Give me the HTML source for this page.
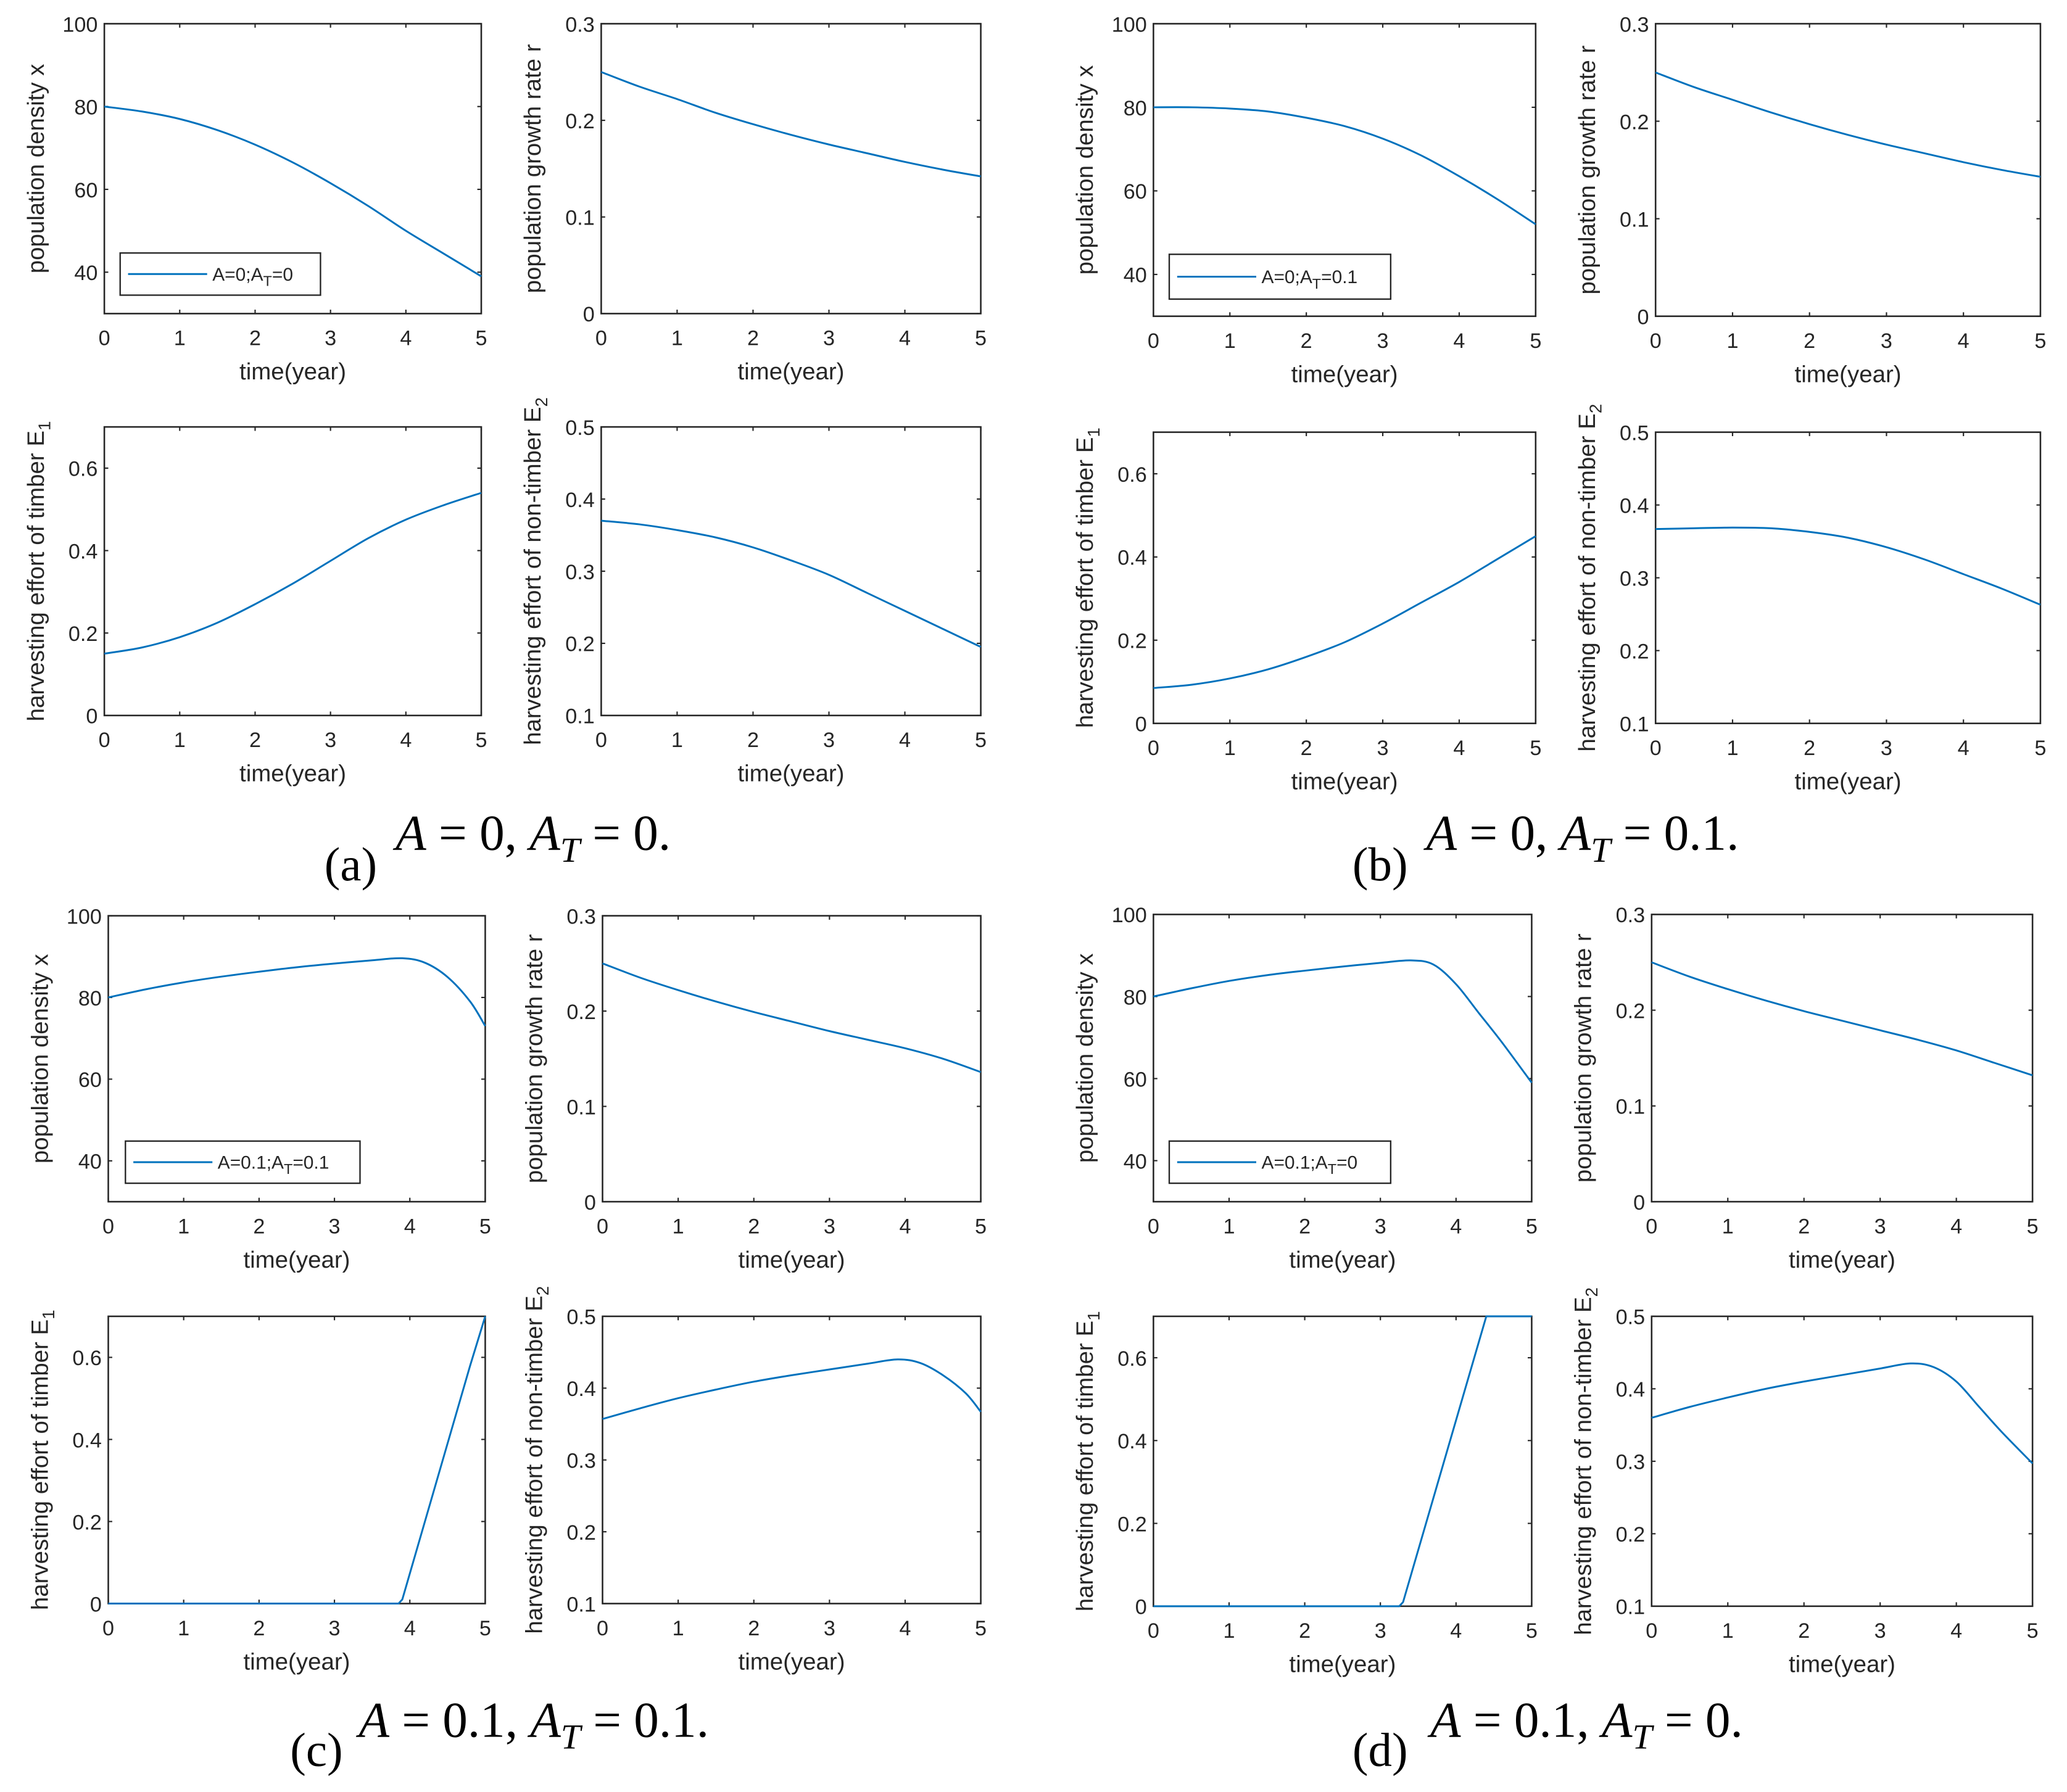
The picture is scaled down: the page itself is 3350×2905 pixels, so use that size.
<!DOCTYPE html>
<html><head><meta charset="utf-8">
<style>
html,body{margin:0;padding:0;background:#fff;}
svg{display:block;}
text{font-family:"Liberation Sans",Arial,sans-serif;fill:#262626;}
.cap{font-family:"Liberation Serif","Times New Roman",serif;fill:#000;}
</style></head>
<body>
<svg id="fig" width="3350" height="2905" viewBox="0 0 1568 1360" xmlns="http://www.w3.org/2000/svg">
<rect width="1568" height="1360" fill="#fff"/>
</svg>
<script>
// ---- data ----
const tStep = [0,0.5,1,1.5,2,2.5,3,3.5,4,4.5,5];
const aX = [80,78.8,77,74.3,70.8,66.5,61.5,56,50,44.5,39];
const aR = [0.25,0.235,0.222,0.208,0.196,0.185,0.175,0.166,0.157,0.149,0.142];
const aE1 = [0.15,0.165,0.19,0.225,0.27,0.32,0.375,0.43,0.475,0.51,0.54];
const aE2 = [0.37,0.365,0.357,0.347,0.333,0.315,0.295,0.27,0.245,0.22,0.195];
const bX = [80,80,79.7,79,77.5,75.5,72.5,68.5,63.5,58,52];
const bR = [0.25,0.235,0.222,0.209,0.197,0.186,0.176,0.167,0.158,0.15,0.143];
const bE1 = [0.085,0.093,0.108,0.13,0.16,0.195,0.24,0.29,0.34,0.395,0.45];
const bE2 = [0.367,0.368,0.369,0.368,0.363,0.355,0.342,0.325,0.305,0.285,0.263];
const cT = [0,0.5,1,1.5,2,2.5,3,3.5,3.9,4.2,4.5,4.8,5];
const cX = [80,82,83.7,85.1,86.3,87.4,88.3,89.1,89.6,88.5,85,79,73];
const cR = [0.25,0.235,0.222,0.21,0.199,0.189,0.179,0.17,0.161,0.15,0.136];
const cE1T = [0,3.85,3.9,4.2,4.5,4.8,5];
const cE1 = [0,0,0.01,0.2,0.39,0.58,0.7];
const cE2 = [0.357,0.372,0.386,0.398,0.409,0.418,0.426,0.434,0.44,0.435,0.418,0.393,0.367];
const dT = [0,0.5,1,1.5,2,2.5,3,3.4,3.7,4,4.3,4.6,5];
const dX = [80,82,83.8,85.2,86.3,87.3,88.2,88.8,87.8,83,76,69,59];
const dR = [0.25,0.235,0.222,0.21,0.199,0.189,0.179,0.169,0.158,0.145,0.132];
const dE1T = [0,3.25,3.3,4.4,5];
const dE1 = [0,0,0.01,0.7,0.7];
const dE2 = [0.36,0.375,0.388,0.4,0.41,0.419,0.428,0.435,0.43,0.41,0.375,0.34,0.297];
const xTicks = [0,1,2,3,4,5];
const xTickLabels = ["0","1","2","3","4","5"];
const xTicks2 = [40,60,80,100];
const rTicks = [0,0.1,0.2,0.3];
const e1Ticks = [0,0.2,0.4,0.6];
const e2Ticks = [0.1,0.2,0.3,0.4,0.5];

const NS="http://www.w3.org/2000/svg";
const svg=document.getElementById('fig');
function mk(tag,attrs,parent){const e=document.createElementNS(NS,tag);for(const k in attrs)e.setAttribute(k,attrs[k]);(parent||svg).appendChild(e);return e;}
function fmt(v){return String(Math.round(v*10)/10);}
function smoothPath(p){
  let d=`M${p[0][0].toFixed(2)},${p[0][1].toFixed(2)}`;
  for(let i=0;i<p.length-1;i++){
    const p0=p[Math.max(0,i-1)],p1=p[i],p2=p[i+1],p3=p[Math.min(p.length-1,i+2)];
    const c1=[p1[0]+(p2[0]-p0[0])/6,p1[1]+(p2[1]-p0[1])/6];
    const c2=[p2[0]-(p3[0]-p1[0])/6,p2[1]-(p3[1]-p1[1])/6];
    d+=` C${c1[0].toFixed(2)},${c1[1].toFixed(2)} ${c2[0].toFixed(2)},${c2[1].toFixed(2)} ${p2[0].toFixed(2)},${p2[1].toFixed(2)}`;
  }
  return d;
}

function plot(name,box,ylim,yticks,ts,vals,ylabel,sub,legend,smooth){
  const [x0,x1,y0,y1]=box;
  const g=mk('g',{});
  
  
  const sx=t=>x0+(t/5)*(x1-x0);
  const sy=v=>y1-(v-ylim[0])/(ylim[1]-ylim[0])*(y1-y0);
  const bx=mk('rect',{x:x0,y:y0,width:x1-x0,height:y1-y0,fill:'#fff',stroke:'#262626','stroke-width':1.2},g);
  
  
  xTicks.forEach((t,i)=>{
    const x=sx(t);
    mk('line',{x1:x,x2:x,y1:y1,y2:y1-3,stroke:'#262626','stroke-width':1},g);
    mk('line',{x1:x,x2:x,y1:y0,y2:y0+3,stroke:'#262626','stroke-width':1},g);
    const tx=mk('text',{x:x,y:y1+24,'font-size':16,'text-anchor':'middle'},g);
    tx.textContent=xTickLabels[i];
    
    
  });
  yticks.forEach(v=>{
    const y=sy(v);
    mk('line',{x1:x0,x2:x0+3,y1:y,y2:y,stroke:'#262626','stroke-width':1},g);
    mk('line',{x1:x1,x2:x1-3,y1:y,y2:y,stroke:'#262626','stroke-width':1},g);
    const tx=mk('text',{x:x0-5,y:y+6,'font-size':16,'text-anchor':'end'},g);
    tx.textContent=fmt(v);
    
    
  });
  const xl=mk('text',{x:(x0+x1)/2,y:y1+50,'font-size':18,'text-anchor':'middle'},g);
  xl.textContent='time(year)';
  
  
  const cy=(y0+y1)/2, cx=x0-(String(fmt(yticks[yticks.length-1])).length>2?46:40);
  const yl=mk('text',{x:0,y:0,'font-size':18,'text-anchor':'middle',transform:`translate(${cx},${cy}) rotate(-90)`},g);
  yl.textContent=ylabel;
  if(sub){const ts2=mk('tspan',{'font-size':13,dy:5},yl);ts2.textContent=sub;}
  
  
  const P=ts.map((t,i)=>[sx(t),sy(vals[i])]);
  let ln;
  if(smooth){ln=mk('path',{d:smoothPath(P),fill:'none',stroke:'#0072BD','stroke-width':1.4},g);}
  else{ln=mk('polyline',{points:P.map(p=>p[0].toFixed(2)+','+p[1].toFixed(2)).join(' '),fill:'none',stroke:'#0072BD','stroke-width':1.4,'stroke-linejoin':'round'},g);}
  
  
  if(legend){
    const [lx,ly,lw,lh,txt,sb,rest]=legend;
    const lg=mk('g',{},g);
    
    
    mk('rect',{x:lx,y:ly,width:lw,height:lh,fill:'#fff',stroke:'#262626','stroke-width':1.1},lg);
    mk('line',{x1:lx+6,x2:lx+66,y1:ly+lh/2,y2:ly+lh/2,stroke:'#0072BD','stroke-width':1.4},lg);
    const t=mk('text',{x:lx+70,y:ly+lh/2+5,'font-size':14},lg);
    t.textContent=txt;
    const s=mk('tspan',{'font-size':11,dy:4},t);s.textContent=sb;
    const r=mk('tspan',{dy:-4},t);r.textContent=rest;
  }
}
function caption(name,lx,ly,fx,fy,label,a,at){
  const g=mk('g',{});
  
  
  const l=mk('text',{x:lx,y:ly,'font-size':36,class:'cap'},g);l.textContent=label;
  const f=mk('text',{x:fx,y:fy,'font-size':38,class:'cap'},g);
  const s1=mk('tspan',{'font-style':'italic'},f);s1.textContent='A';
  const s2=mk('tspan',{},f);s2.textContent=' = '+a+', ';
  const s3=mk('tspan',{'font-style':'italic'},f);s3.textContent='A';
  const s4=mk('tspan',{'font-style':'italic','font-size':27,dy:9},f);s4.textContent='T';
  const s5=mk('tspan',{dy:-9},f);s5.textContent='  = '+at+'.';
}

const XL='population density x', RL='population growth rate r', E1L='harvesting effort of timber E', E2L='harvesting effort of non-timber E';
// (a)
plot('a-density',[79,365,18,238],[30,100],xTicks2,tStep,aX,XL,null,[91,192,152,32,'A=0;A','T','=0'],true);
plot('a-growth',[456,744,18,238],[0,0.3],rTicks,tStep,aR,RL,null,null,true);
plot('a-e1',[79,365,324,543],[0,0.7],e1Ticks,tStep,aE1,E1L,'1',null,true);
plot('a-e2',[456,744,324,543],[0.1,0.5],e2Ticks,tStep,aE2,E2L,'2',null,true);
caption('caption-a',246,668,300,645,'(a)','0','0');
// (b)
plot('b-density',[875,1165,18,240],[30,100],xTicks2,tStep,bX,XL,null,[887,193,168,34,'A=0;A','T','=0.1'],true);
plot('b-growth',[1256,1548,18,240],[0,0.3],rTicks,tStep,bR,RL,null,null,true);
plot('b-e1',[875,1165,328,549],[0,0.7],e1Ticks,tStep,bE1,E1L,'1',null,true);
plot('b-e2',[1256,1548,328,549],[0.1,0.5],e2Ticks,tStep,bE2,E2L,'2',null,true);
caption('caption-b',1026,668,1082,645,'(b)','0','0.1');
// (c)
plot('c-density',[82,368,695,912],[30,100],xTicks2,cT,cX,XL,null,[95,866,178,32,'A=0.1;A','T','=0.1'],true);
plot('c-growth',[457,744,695,912],[0,0.3],rTicks,tStep,cR,RL,null,null,true);
plot('c-e1',[82,368,999,1217],[0,0.7],e1Ticks,cE1T,cE1,E1L,'1',null,false);
plot('c-e2',[457,744,999,1217],[0.1,0.5],e2Ticks,cT,cE2,E2L,'2',null,true);
caption('caption-c',220,1340,272,1318,'(c)','0.1','0.1');
// (d)
plot('d-density',[875,1162,694,912],[30,100],xTicks2,dT,dX,XL,null,[887,866,168,32,'A=0.1;A','T','=0'],true);
plot('d-growth',[1253,1542,694,912],[0,0.3],rTicks,tStep,dR,RL,null,null,true);
plot('d-e1',[875,1162,999,1219],[0,0.7],e1Ticks,dE1T,dE1,E1L,'1',null,false);
plot('d-e2',[1253,1542,999,1219],[0.1,0.5],e2Ticks,dT,dE2,E2L,'2',null,true);
caption('caption-d',1026,1340,1085,1318,'(d)','0.1','0');
</script>
</body></html>
